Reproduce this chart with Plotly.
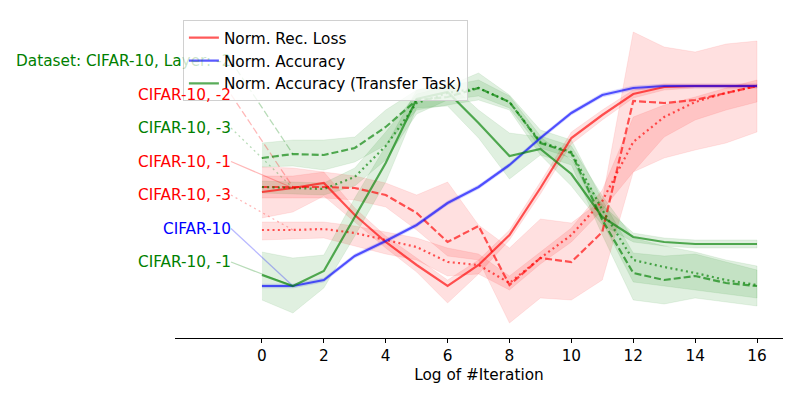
import plotly.graph_objects as go

# log2 of the iteration count
iterations = list(range(17))

# normalised reconstruction loss, one run per layer (mean, lower, upper)
rec_loss_l1 = [0.47, 0.49, 0.515, 0.355, 0.22, 0.105, 0.0, 0.105, 0.255, 0.49, 0.74, 0.855, 0.96, 0.995, 1.0, 1.0, 1.0]
rec_loss_l1_lo = [0.34, 0.37, 0.45, 0.32, 0.19, 0.07, -0.085, 0.06, 0.23, 0.46, 0.71, 0.83, 0.94, 0.98, 0.99, 0.99, 0.99]
rec_loss_l1_hi = [0.595, 0.59, 0.57, 0.39, 0.25, 0.14, 0.03, 0.13, 0.28, 0.52, 0.77, 0.88, 0.98, 1.01, 1.01, 1.01, 1.01]

rec_loss_l2 = [0.495, 0.495, 0.495, 0.49, 0.455, 0.365, 0.22, 0.30, 0.005, 0.14, 0.12, 0.27, 0.925, 0.915, 0.93, 0.965, 1.0]
rec_loss_l2_lo = [0.44, 0.44, 0.44, 0.43, 0.395, 0.28, 0.15, 0.13, -0.185, -0.06, -0.07, 0.03, 0.57, 0.64, 0.68, 0.715, 0.77]
rec_loss_l2_hi = [0.55, 0.55, 0.57, 0.55, 0.515, 0.455, 0.52, 0.305, 0.19, 0.335, 0.315, 0.43, 1.27, 1.195, 1.17, 1.21, 1.225]

rec_loss_l3 = [0.28, 0.28, 0.285, 0.265, 0.23, 0.195, 0.12, 0.105, 0.015, 0.14, 0.255, 0.425, 0.72, 0.845, 0.92, 0.965, 1.0]
rec_loss_l3_lo = [0.23, 0.235, 0.24, 0.2, 0.16, 0.13, 0.05, 0.06, -0.02, 0.11, 0.22, 0.38, 0.57, 0.745, 0.83, 0.88, 0.92]
rec_loss_l3_hi = [0.32, 0.32, 0.32, 0.3, 0.27, 0.24, 0.19, 0.16, 0.05, 0.17, 0.29, 0.48, 0.845, 0.905, 0.945, 0.99, 1.03]

# normalised accuracy on the main task
accuracy = [0.0, 0.0, 0.03, 0.15, 0.225, 0.305, 0.415, 0.495, 0.605, 0.74, 0.865, 0.955, 0.99, 1.0, 1.0, 1.0, 1.0]
accuracy_lo = [-0.01, -0.01, 0.02, 0.14, 0.215, 0.295, 0.405, 0.485, 0.595, 0.73, 0.855, 0.945, 0.98, 0.99, 0.99, 0.99, 0.99]
accuracy_hi = [0.01, 0.01, 0.04, 0.16, 0.235, 0.315, 0.425, 0.505, 0.615, 0.75, 0.875, 0.965, 1.0, 1.01, 1.01, 1.01, 1.01]

# normalised accuracy on the transfer task, one run per layer
transfer_l1 = [0.055, 0.0, 0.075, 0.345, 0.615, 0.935, 0.97, 0.815, 0.65, 0.685, 0.56, 0.345, 0.245, 0.22, 0.21, 0.21, 0.21]
transfer_l1_lo = [-0.07, -0.135, -0.01, 0.25, 0.52, 0.89, 0.9, 0.74, 0.535, 0.655, 0.5, 0.305, 0.22, 0.2, 0.19, 0.19, 0.19]
transfer_l1_hi = [0.17, 0.14, 0.155, 0.44, 0.70, 0.98, 1.02, 0.88, 0.765, 0.745, 0.63, 0.405, 0.265, 0.24, 0.23, 0.23, 0.23]

transfer_l2 = [0.64, 0.66, 0.655, 0.69, 0.795, 0.93, 0.945, 0.99, 0.92, 0.715, 0.665, 0.33, 0.065, 0.03, 0.05, 0.015, 0.0]
transfer_l2_lo = [0.595, 0.6, 0.58, 0.62, 0.705, 0.88, 0.905, 0.93, 0.88, 0.655, 0.605, 0.255, -0.07, -0.09, -0.06, -0.08, -0.1]
transfer_l2_hi = [0.715, 0.73, 0.73, 0.745, 0.88, 0.98, 1.0, 1.065, 0.955, 0.78, 0.73, 0.43, 0.165, 0.15, 0.16, 0.12, 0.08]

transfer_l3 = [0.495, 0.49, 0.485, 0.545, 0.70, 0.915, 0.965, 0.99, 0.92, 0.72, 0.67, 0.38, 0.13, 0.095, 0.065, 0.03, 0.005]
transfer_l3_lo = [0.465, 0.46, 0.455, 0.5, 0.63, 0.86, 0.93, 0.95, 0.89, 0.69, 0.64, 0.32, 0.02, 0.0, -0.02, -0.04, -0.06]
transfer_l3_hi = [0.525, 0.52, 0.515, 0.59, 0.77, 0.96, 1.0, 1.03, 0.95, 0.75, 0.70, 0.45, 0.24, 0.2, 0.17, 0.13, 0.1]

RED = (255, 0, 0)
GREEN = (0, 128, 0)
BLUE = (0, 0, 255)
DASHED = "7px,3px"
DOTTED = "2px,3.3px"
FS = 15.3


def rgba(c, a):
    return f"rgba({c[0]},{c[1]},{c[2]},{a})"


# the top label runs in under the legend box, so its tail is drawn faded
top_label = "Dataset: CIFAR-10, La<span style='color:" + rgba(GREEN, 0.22) + "'>yer: -2</span>"

# (mean, lo, hi, colour, dash, legend name, side label), side labels top to bottom
runs = [
    (transfer_l2, transfer_l2_lo, transfer_l2_hi, GREEN, DASHED, None, top_label),
    (rec_loss_l2, rec_loss_l2_lo, rec_loss_l2_hi, RED, DASHED, None, "CIFAR-10, -2"),
    (transfer_l3, transfer_l3_lo, transfer_l3_hi, GREEN, DOTTED, None, "CIFAR-10, -3"),
    (rec_loss_l1, rec_loss_l1_lo, rec_loss_l1_hi, RED, "solid", "Norm. Rec. Loss", "CIFAR-10, -1"),
    (rec_loss_l3, rec_loss_l3_lo, rec_loss_l3_hi, RED, DOTTED, None, "CIFAR-10, -3"),
    (accuracy, accuracy_lo, accuracy_hi, BLUE, "solid", "Norm. Accuracy", "CIFAR-10"),
    (transfer_l1, transfer_l1_lo, transfer_l1_hi, GREEN, "solid", "Norm. Accuracy (Transfer Task)", "CIFAR-10, -1"),
]
legend_order = {"Norm. Rec. Loss": 1, "Norm. Accuracy": 2, "Norm. Accuracy (Transfer Task)": 3}

label_x = -1
label_top = 1.125
label_step = 0.1675

fig = go.Figure()

# bands first
for mean, lo, hi, col, dash, name, label in runs:
    fig.add_trace(go.Scatter(
        x=iterations + iterations[::-1], y=hi + lo[::-1],
        fill="toself", fillcolor=rgba(col, 0.12),
        line=dict(color=rgba(col, 0.08), width=1),
        mode="lines", showlegend=False, hoverinfo="skip"))

annotations = []
for i, (mean, lo, hi, col, dash, name, label) in enumerate(runs):
    ly = label_top - i * label_step
    # faint connector from the side label to the curve at x=1
    fig.add_trace(go.Scatter(
        x=[label_x, iterations[1]], y=[ly, mean[1]], mode="lines",
        line=dict(color=rgba(col, 0.28), width=1.3, dash=dash),
        showlegend=False, hoverinfo="skip"))
    annotations.append(dict(
        x=label_x, y=ly, xref="x", yref="y", text=label, showarrow=False,
        xanchor="right", yanchor="middle", xshift=2,
        font=dict(color=rgba(col, 1), size=FS)))

for mean, lo, hi, col, dash, name, label in runs:
    fig.add_trace(go.Scatter(
        x=iterations, y=mean, mode="lines",
        line=dict(color=rgba(col, 0.65), width=2.2, dash=dash),
        name=name if name else "", showlegend=name is not None,
        legendrank=legend_order.get(name, 1000)))

fig.update_layout(
    width=800, height=400,
    margin=dict(l=175, r=17, t=17, b=62),
    plot_bgcolor="white", paper_bgcolor="white",
    font=dict(family="DejaVu Sans", size=FS, color="black"),
    annotations=annotations,
    legend=dict(x=0.013, y=0.99, xanchor="left", yanchor="top",
                bgcolor="rgba(255,255,255,0.8)", bordercolor="#d0d0d0",
                borderwidth=1, font=dict(size=FS), tracegroupgap=0),
)
fig.update_xaxes(range=[-2.81, 16.84], tickvals=list(range(0, 17, 2)),
                 showline=True, linecolor="black", linewidth=1,
                 ticks="outside", ticklen=4, tickcolor="black",
                 tickfont=dict(size=FS),
                 showgrid=False, zeroline=False,
                 title=dict(text="Log of #Iteration", standoff=4, font=dict(size=FS)))
fig.update_yaxes(visible=False, range=[-0.26, 1.345])

# drop the browser's default body margin so the figure sits at the page corner
fig.write_html("out.html", config={"displayModeBar": False},
               post_script="document.body.style.margin='0';")
